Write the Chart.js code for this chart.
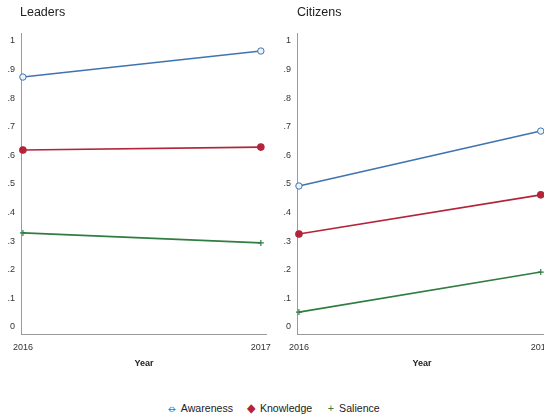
<!DOCTYPE html>
<html>
<head>
<meta charset="utf-8">
<script src="https://cdn.jsdelivr.net/npm/chart.js@4"></script>
<style>
  body { margin: 0; width: 544px; height: 420px; overflow: hidden; background: #fff; position: relative;
         font-family: "Liberation Sans Narrow", "Liberation Sans", Arial, sans-serif; color: #222; }
  .panel { position: absolute; top: 0; height: 372px; }
  .ttl { position: absolute; top: 5px; font-size: 12.5px; }
  #legend { position: absolute; top: 401px; left: 0; width: 544px; text-align: center; font-size: 11.5px;
            transform: scaleX(0.92); transform-origin: 272px 0; }
  #legend span { margin: 0 4px; }
  .sym { display: inline-block; width: 10px; text-align: center; margin-right: 3px; }
</style>
</head>
<body>
<div class="panel" style="left:0;width:272px"><canvas id="leaders"></canvas></div>
<div class="panel" style="left:272px;width:280px"><canvas id="citizens"></canvas></div>
<div class="ttl" style="left:20px">Leaders</div>
<div class="ttl" style="left:297px">Citizens</div>
<div id="legend">
  <span><span class="sym" style="color:#3f73b0">&#x29B5;</span>Awareness</span>
  <span><span class="sym" style="color:#b3243a">&#x25C6;</span>Knowledge</span>
  <span><span class="sym" style="color:#2f7d40">+</span>Salience</span>
</div>
<script>
// data
const years = [2016, 2017];
const seriesNames = ["Awareness", "Knowledge", "Salience"];
const leadersAwareness = [0.874, 0.965];
const leadersKnowledge = [0.619, 0.629];
const leadersSalience = [0.329, 0.294];
const citizensAwareness = [0.493, 0.685];
const citizensKnowledge = [0.325, 0.462];
const citizensSalience = [0.052, 0.192];
const yTicks = [0, 0.1, 0.2, 0.3, 0.4, 0.5, 0.6, 0.7, 0.8, 0.9, 1];

const colors = ["#3f73b0", "#b3243a", "#2f7d40"];
const fontName = "'Liberation Sans Narrow', 'Liberation Sans', Arial, sans-serif";

function pts(vals) {
  return years.map((y, i) => ({ x: y, y: vals[i] }));
}

function makeChart(id, series, yWidth) {
  const ds = series.map((vals, i) => ({
    label: seriesNames[i],
    data: pts(vals),
    borderColor: colors[i],
    backgroundColor: i == 0 ? "#eef3fa" : colors[i],
    borderWidth: 1.6,
    pointRadius: i == 2 ? 3 : 3.2,
    pointBorderWidth: i == 0 ? 1 : 1.2,
    pointStyle: i == 2 ? "cross" : "circle",
    clip: false,
  }));
  return new Chart(document.getElementById(id), {
    type: "line",
    data: { datasets: ds },
    options: {
      responsive: false,
      animation: false,
      layout: { padding: { top: 33, left: 0, right: 0, bottom: 0 } },
      plugins: { legend: { display: false }, tooltip: { enabled: false } },
      scales: {
        x: {
          type: "linear",
          min: 2015.992,
          max: 2017.025,
          afterBuildTicks: (s) => { s.ticks = years.map(v => ({ value: v })); },
          afterFit: (s) => { s.height = 38; s.paddingLeft = 0; s.paddingRight = 0; },
          grid: { display: false, drawTicks: false },
          border: { color: "#9a9a9a", width: 1 },
          ticks: { padding: 8, color: "#333", font: { family: fontName, size: 9 },
                   maxRotation: 0, callback: (v) => String(v) },
          title: { display: true, text: "Year", color: "#222",
                   font: { family: fontName, size: 9, weight: "bold" }, padding: { top: 0, bottom: 3 } },
        },
        y: {
          min: -0.0245,
          max: 1.028,
          afterBuildTicks: (s) => { s.ticks = yTicks.map(v => ({ value: v })); },
          afterFit: (s) => { s.width = yWidth; s.paddingTop = 0; s.paddingBottom = 0; },
          grid: { display: false, drawTicks: false },
          border: { color: "#9a9a9a", width: 1 },
          ticks: { padding: 6, color: "#333", font: { family: fontName, size: 9 },
                   callback: (v) => v == 0 ? "0" : v == 1 ? "1" : "." + Math.round(v * 10) },
        },
      },
    },
  });
}

function sizeCanvas(id, w, h) {
  const c = document.getElementById(id);
  c.width = w; c.height = h;
  c.style.width = w + "px"; c.style.height = h + "px";
}
sizeCanvas("leaders", 272, 372);
sizeCanvas("citizens", 280, 372);

makeChart("leaders", [leadersAwareness, leadersKnowledge, leadersSalience], 21);
makeChart("citizens", [citizensAwareness, citizensKnowledge, citizensSalience], 25);
</script>
</body>
</html>
